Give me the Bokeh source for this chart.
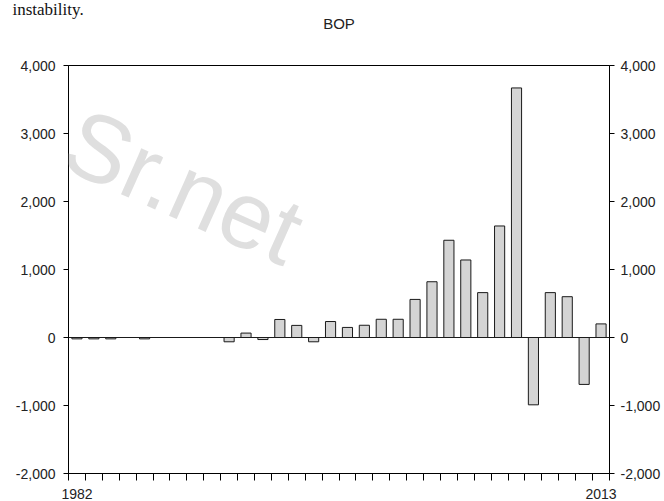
from bokeh.plotting import figure
from bokeh.models import (Range1d, FixedTicker, NumeralTickFormatter, LinearAxis,
                          Span, Label, Title, ColumnDataSource)
from bokeh.embed import file_html
from bokeh.resources import INLINE

# ---- data ----
years = list(range(1982, 2014))
bop = [-20, -20, -20, 0, -20, 0, 0, 0, 0, -63,
       65, -30, 265, 178, -63, 235, 148, 180, 268, 268,
       560, 820, 1430, 1140, 660, 1640, 3670, -990, 660, 600,
       -690, 200]
y_ticks = [-2000, -1000, 0, 1000, 2000, 3000, 4000]
x_label_years = [1982, 2013]
title_text = "BOP"

FONT = "Liberation Sans"
TXT = "#222222"

p = figure(width=664, height=501, output_backend="svg", toolbar_location=None,
           title=None,
           x_range=Range1d(years[0] - 0.5, years[-1] + 0.5),
           y_range=Range1d(-2000, 4000),
           min_border_left=68, min_border_right=55,
           min_border_top=65, min_border_bottom=28)
p.xgrid.visible = False
p.ygrid.visible = False
p.background_fill_color = "white"
p.border_fill_color = "white"
p.outline_line_color = "black"
p.outline_line_width = 1

src = ColumnDataSource(dict(x=years, top=bop))
p.vbar(x="x", top="top", bottom=0, width=0.6, source=src,
       fill_color="#d4d4d4", line_color="#1a1a1a", line_width=1)

p.add_layout(Span(location=0, dimension="width", line_color="#1a1a1a", line_width=1))

# left / right value axes
ya = p.yaxis[0]
ya.ticker = FixedTicker(ticks=y_ticks, minor_ticks=[])
ya.formatter = NumeralTickFormatter(format="0,0")
ra = LinearAxis(ticker=FixedTicker(ticks=y_ticks, minor_ticks=[]),
                formatter=NumeralTickFormatter(format="0,0"))
p.add_layout(ra, "right")
for ax in (ya, ra):
    ax.major_tick_out = 5
    ax.major_tick_in = 0
    ax.minor_tick_out = 0
    ax.minor_tick_in = 0
    ax.axis_line_color = "black"
    ax.major_tick_line_color = "black"
    ax.major_label_text_font = FONT
    ax.major_label_text_font_size = "14px"
    ax.major_label_text_color = TXT
    ax.major_label_standoff = 6
ya.major_label_standoff = 8

# bottom axis: labels at first/last year, ticks at every year boundary
bounds = [y - 0.5 for y in years] + [years[-1] + 0.5]
xa = p.xaxis[0]
xa.ticker = FixedTicker(ticks=x_label_years, minor_ticks=bounds)
xa.major_tick_out = 0
xa.major_tick_in = 0
xa.minor_tick_out = 7
xa.minor_tick_in = 0
xa.minor_tick_line_color = "black"
xa.major_label_text_font = FONT
xa.major_label_text_font_size = "14px"
xa.major_label_text_color = TXT
xa.major_label_standoff = 8
xa.axis_line_color = "black"

# chart title as the label of an otherwise empty top axis
ta = LinearAxis(ticker=FixedTicker(ticks=[], minor_ticks=[]), axis_label=title_text)
ta.axis_line_color = None
ta.major_tick_out = 0
ta.major_tick_in = 0
ta.minor_tick_out = 0
ta.minor_tick_in = 0
ta.axis_label_text_font = FONT
ta.axis_label_text_font_size = "15px"
ta.axis_label_text_font_style = "normal"
ta.axis_label_text_color = TXT
ta.axis_label_standoff = 34
p.add_layout(ta, "above")

# cropped document text (outer panel)
p.add_layout(Title(text="instability.", align="left", offset=-56,
                   text_font="Liberation Serif", text_font_size="17px",
                   text_font_style="normal", text_color="#111111",
                   standoff=-15), "above")

# watermark
p.add_layout(Label(x=70, y=135, x_units="canvas", y_units="canvas",
                   text="Sr.net", angle=-0.42, text_align="left",
                   text_baseline="alphabetic", text_font=FONT, text_font_size="95px",
                   text_color="#b0b0b0", text_alpha=0.4, level="overlay"))

open("out.html", "w").write(file_html(p, INLINE))
